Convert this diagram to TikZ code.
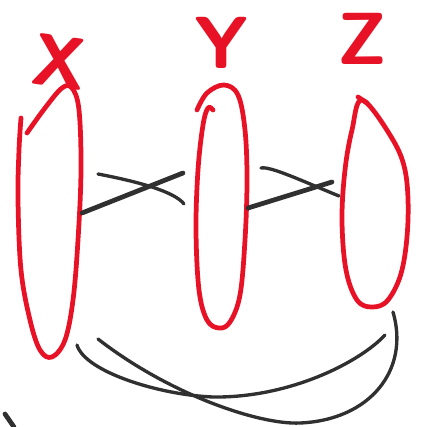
\documentclass[tikz,border=0pt]{standalone}
\usetikzlibrary{positioning}
\definecolor{penred}{RGB}{232,18,38}
\definecolor{pengray}{RGB}{48,48,48}
\tikzset{redpen/.style = {draw=penred, line width=2.7pt, line cap=round, line join=round}}
\tikzset{thickpen/.style = {draw=pengray, line width=2.7pt, line cap=round}}
\tikzset{thinpen/.style = {draw=pengray, line width=1.9pt, line cap=round}}
\tikzset{letter/.style = {text=penred, font=\sffamily\bfseries\fontsize{42}{42}\selectfont, inner sep=0}}

\begin{document}
\begin{tikzpicture}[x=0.02cm, y=-0.02cm]
  \useasboundingbox (0,0) rectangle (424,427);
  % labels
  \node[letter, rotate=-8] (lx) at (60,62) {X};
  \node[letter] (ly) at (222,43) {Y};
  \node[letter] (lz) at (362,39) {Z};
  % the three sets
  \draw[redpen] plot[smooth, tension=0.6] coordinates {(27,133) (45,108) (62,88) (72,88) (79,110) (81,170) (78,240) (73,300) (65,340) (52,357) (40,350) (30,320) (21,270) (18,200) (19,150) (21,118)};
  \draw[redpen] plot[smooth, tension=0.6] coordinates {(197,110) (207,93) (224,85) (238,95) (245,130) (247,180) (245,240) (240,295) (230,322) (219,328) (207,320) (199,290) (196,230) (198,170) (203,125) (208,108) (213,110)};
  \draw[redpen] plot[smooth cycle, tension=0.6] coordinates {(362,100) (390,135) (405,170) (408,220) (402,270) (388,300) (372,307) (357,300) (346,270) (342,220) (345,170) (352,130)};
  \draw[redpen] (358,97) -- (367,103);
  % end points
  \coordinate (x1) at (82,213);
  \coordinate (y1) at (183,173);
  \coordinate (x2) at (98,174);
  \coordinate (y2) at (184,204);
  \coordinate (y3) at (248,208);
  \coordinate (z3) at (332,182);
  \coordinate (y4) at (261,168);
  \coordinate (z4) at (339,196);
  \coordinate (x5) at (77,345);
  \coordinate (z5) at (385,335);
  \coordinate (x6) at (98,339);
  \coordinate (z6) at (393,312);
  % relations
  \draw[thickpen] (x1) -- (y1);
  \draw[thinpen] (x2) .. controls (140,182) and (175,192) .. (y2);
  \draw[thickpen] (y3) -- (z3);
  \draw[thinpen] (y4) .. controls (270,166) and (300,180) .. (z4);
  \draw[thinpen] (x5) .. controls (85,372) and (160,395) .. (213,397) .. controls (290,398) and (360,362) .. (z5);
  \draw[thinpen] (x6) .. controls (170,395) and (260,425) .. (300,423) .. controls (370,420) and (410,370) .. (z6);
  \draw[thickpen] (5,414) -- (14,427);
\end{tikzpicture}
\end{document}
